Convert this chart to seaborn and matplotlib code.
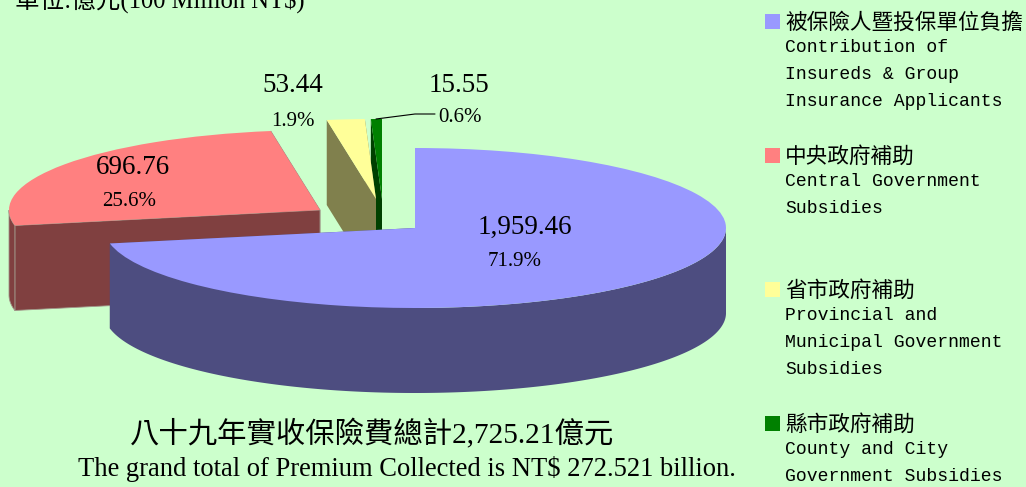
import numpy as np
import matplotlib
matplotlib.use('Agg')
import matplotlib.pyplot as plt
from matplotlib.patches import Rectangle
from matplotlib.transforms import Affine2D
import seaborn as sns

# data
values = [1959.46, 696.76, 53.44, 15.55]
percents = ['71.9%', '25.6%', '1.9%', '0.6%']
names_zh = ['被保險人暨投保單位負擔', '中央政府補助', '省市政府補助', '縣市政府補助']
names_en = [['Contribution of', 'Insureds & Group', 'Insurance Applicants'],
            ['Central Government', 'Subsidies'],
            ['Provincial and', 'Municipal Government', 'Subsidies'],
            ['County and City', 'Government Subsidies']]
unit_label = '單位:億元(100 Million NT$)'
total_zh = '八十九年實收保險費總計2,725.21億元'
total_en = 'The grand total of Premium Collected is NT$ 272.521 billion.'

# colours
bg = '#CCFFCC'
top_colors = ['#9999FF', '#FF8080', '#FFFF99', '#008000']
side_colors = ['#4D4D80', '#804040', '#80804D', '#004000']
side_edges = ['none', '#A09488', 'none', 'none']

# layout, all in pixels of the 1026x487 picture
apex_x = [415, 320, 376, 382]
apex_y = [228, 210, 199, 199]
slice_z = [8, 6, 4, 2]
rx, ry, depth = 311, 80, 85
value_pos = [(525, 227), (133, 167), (293, 85), (459, 86)]
pct_pos = [(515, 261), (129, 201), (293, 121), (460, 117)]
swatch_y = [14, 148, 282, 416]
leader_x = [376, 415, 435]
leader_y = [119, 114, 114]

serif = ['Liberation Serif', 'Noto Sans CJK TC']
mono = 'Liberation Mono'
cjk = 'Noto Sans CJK TC'

sns.set_theme(style='white', rc={'figure.facecolor': bg, 'axes.facecolor': bg})
fig = plt.figure(figsize=(10.26, 4.87), dpi=100)
ax = fig.add_axes([0, 0, 1, 1])

wedges, _ = ax.pie(values, colors=top_colors, startangle=90, counterclock=False,
                   wedgeprops={'linewidth': 0})
ax.set_aspect('auto')
ax.set_xlim(0, 1026)
ax.set_ylim(487, 0)
ax.axis('off')


def rim(t, cx, cy, drop=0):
    t = np.radians(t)
    return cx + rx * np.cos(t), cy - ry * np.sin(t) + drop


for i, w in enumerate(wedges):
    cx, cy = apex_x[i], apex_y[i]
    w.set_transform(Affine2D().scale(rx, -ry).translate(cx, cy) + ax.transData)
    w.set_zorder(slice_z[i] + 1)

    # flat cut faces on both sides of the slice
    for t in (w.theta1, w.theta2):
        x, y = rim(t, cx, cy)
        ax.fill([cx, x, x, cx], [cy, y, y + depth, cy + depth], facecolor=side_colors[i],
                edgecolor=side_edges[i], lw=0.6, zorder=slice_z[i])

    # outer wall, only the part that faces front
    ts = np.linspace(w.theta1, w.theta2, 500)
    ts = ts[np.sin(np.radians(ts)) <= 0]
    if len(ts):
        xt, yt = rim(ts, cx, cy)
        ax.fill(np.r_[xt, xt[::-1]], np.r_[yt, yt[::-1] + depth], facecolor=side_colors[i],
                edgecolor=side_edges[i], lw=0.6, zorder=slice_z[i])

for i, v in enumerate(values):
    ax.text(*value_pos[i], f'{v:,.2f}', family=serif, fontsize=19.5, ha='center', va='center',
            color='black', zorder=20)
    ax.text(*pct_pos[i], percents[i], family=serif, fontsize=15, ha='center', va='center',
            color='black', zorder=20)

ax.plot(leader_x, leader_y, color='black', lw=0.8, zorder=20)

# legend
for i, zh in enumerate(names_zh):
    ax.add_patch(Rectangle((765, swatch_y[i]), 15, 15, color=top_colors[i], lw=0, zorder=20))
    ax.text(785, swatch_y[i] + 8.5, zh, family=cjk, fontsize=15.6, va='center', color='black')
    for j, line in enumerate(names_en[i]):
        ax.text(785, swatch_y[i] + 34 + 26.7 * j, line, family=mono, fontsize=13.05, va='center',
                color='black')

ax.text(15, 9, unit_label, family=serif, fontsize=17.7, va='baseline', color='black')
ax.text(130, 443, total_zh, family=serif, fontsize=21.2, va='baseline', color='black')
ax.text(78, 476, total_en, family=serif, fontsize=19.1, va='baseline', color='black')

fig.savefig('out.png', dpi=100, facecolor=bg)
